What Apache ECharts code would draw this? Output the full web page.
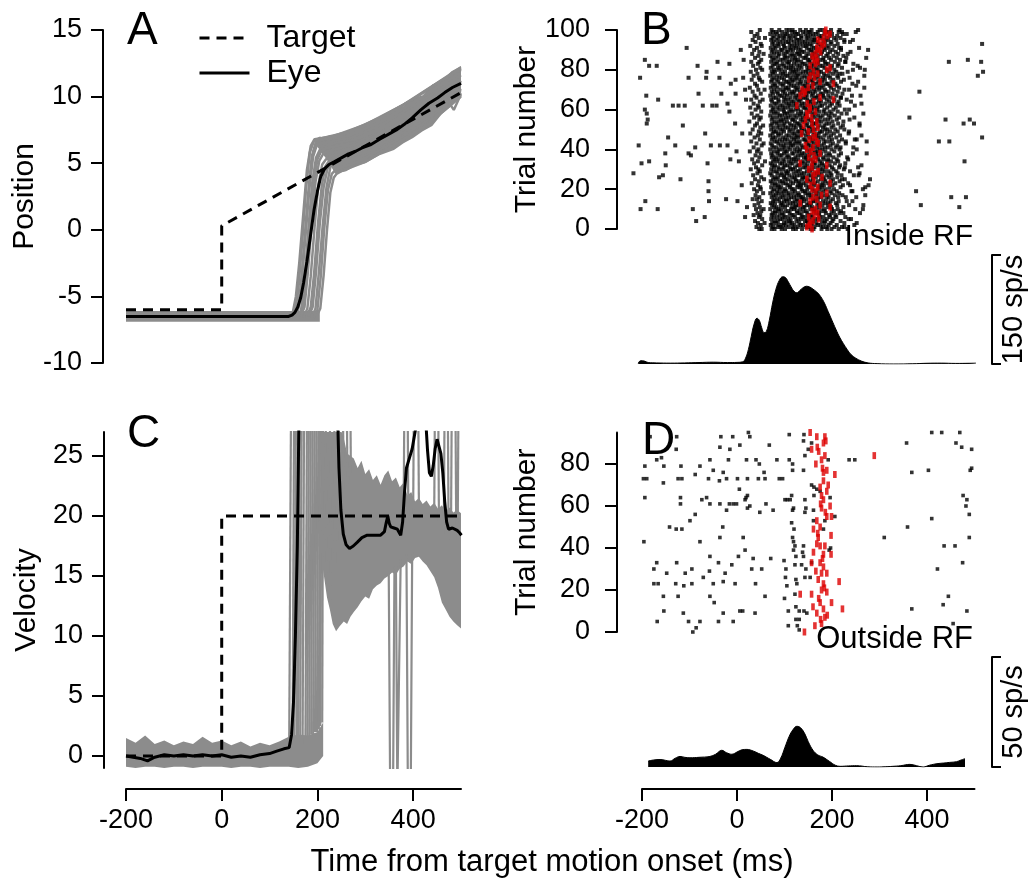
<!DOCTYPE html>
<html><head><meta charset="utf-8">
<script src="https://cdn.jsdelivr.net/npm/echarts@6/dist/echarts.min.js"></script>
<style>html,body{margin:0;padding:0;background:#fff}#c{width:1031px;height:886px}</style>
</head><body><div id="c"></div>
<script>
const FONT = '"Liberation Sans", Arial, Helvetica, sans-serif';
const GRAY = '#8c8c8c';
const RED = '#dd0000';

// ---- tick values ----
const timeTicks = [-200, 0, 200, 400];
const posTicks = [-10, -5, 0, 5, 10, 15];
const velTicks = [0, 5, 10, 15, 20, 25];
const trialTicksB = [0, 20, 40, 60, 80, 100];
const trialTicksD = [0, 20, 40, 60, 80];
const scaleTicksB = [0, 150];
const scaleTicksD = [0, 50];

// ---- Panel A: position ----
const targetPos = [[-200, -6], [0, -6], [0, 0.3], [500, 10.3]];
const eyePos = [[-200,-6.5],[100,-6.5],[140,-6.5],[147,-6.4],[153,-6.2],[159,-5.8],[165,-5.1],[171,-4.0],[178,-2.4],[186,-0.3],[193,1.5],[200,2.9],[207,4.0],[215,4.6],[224,4.9],[235,5.1],[250,5.4],[265,5.7],[280,5.9],[296,6.2],[312,6.4],[330,6.8],[350,7.2],[365,7.5],[381,7.9],[398,8.4],[416,9.0],[433,9.5],[451,9.9],[466,10.3],[483,10.7],[500,11.0]];
const posPreT = [-200, 205];
const posPreHi = [-6.1, -6.1];
const posPreLo = [-6.9, -6.9];
const posPostT = [196,205,215,225,237,260,280,300,330,360,380,400,420,440,460,480,500];
const posPostHi = [6.8,7.0,6.9,7.1,7.1,7.4,7.5,8.0,8.3,9.0,9.3,9.9,10.1,10.9,11.2,11.9,12.3];
const posPostLo = [6.4,6.0,5.5,5.0,4.2,4.4,4.8,5.0,5.6,6.0,6.5,6.9,7.4,7.8,8.7,9.3,10.0];
const posTraces = [
 [[140,-6.5],[148,-6.3],[155,-5],[162,-2.5],[170,1],[178,4.5],[186,6.3],[194,6.8],[230,7.0],[300,7.9],[380,9.4],[440,10.8],[500,12.2]],
 [[146,-6.6],[153,-6.2],[160,-4.5],[168,-1],[176,3],[184,5.8],[192,6.6],[200,6.8],[260,7.3],[330,8.4],[400,9.8],[460,11.2],[500,12.0]],
 [[150,-6.6],[158,-6.1],[165,-4.3],[172,-1.2],[180,2.5],[188,5.5],[196,6.5],[204,6.7],[250,7.1],[320,8.1],[390,9.6],[450,11.0],[500,12.1]],
 [[152,-6.5],[160,-6.0],[167,-4],[175,-0.5],[183,3],[191,5.5],[199,6.4],[207,6.5],[270,6.9],[340,8.0],[410,9.5],[470,10.9],[500,11.6]],
 [[158,-6.6],[166,-6.0],[173,-3.8],[181,0],[189,3.5],[197,5.4],[205,6.0],[213,6.2],[280,6.6],[350,7.5],[420,9.0],[480,10.5],[500,11.2]],
 [[161,-6.6],[169,-6.0],[176,-3.6],[184,0.1],[192,3.5],[200,5.3],[208,5.9],[216,6.1],[285,6.6],[355,7.7],[425,9.1],[500,11.1]],
 [[165,-6.5],[173,-5.8],[180,-3.2],[188,0.5],[196,3.6],[204,5.2],[212,5.7],[220,5.9],[290,6.5],[360,7.8],[430,9.3],[500,11.0]],
 [[171,-6.6],[179,-5.9],[186,-3.5],[194,0.2],[202,3.4],[210,4.9],[218,5.3],[226,5.5],[300,6.2],[370,7.4],[440,8.9],[500,10.6]],
 [[178,-6.5],[186,-5.8],[193,-3.3],[201,0.4],[209,3.3],[217,4.8],[225,5.2],[233,5.4],[300,6.0],[370,7.3],[440,8.8],[500,10.5]],
 [[182,-6.5],[190,-5.8],[197,-3.2],[205,0.5],[213,3.2],[221,4.6],[229,5.0],[237,5.2],[300,5.8],[370,7.1],[440,8.6],[500,10.3]],
 [[188,-6.6],[196,-5.9],[203,-3.2],[211,0.3],[219,3.2],[227,4.7],[235,5.2],[245,5.5],[320,6.6],[400,8.3],[470,9.8],[485,9.0],[500,10.2]],
 [[192,-6.6],[200,-6.0],[207,-3.5],[214,0],[222,3.0],[230,4.2],[238,4.5],[246,4.6],[290,5.2],[360,6.6],[420,7.7],[500,10.1]],
 [[198,-6.5],[206,-5.9],[213,-3.4],[220,0],[227,2.8],[234,3.9],[240,4.2],[250,4.4],[300,5.1],[370,6.6],[430,7.9],[500,10.0]]
];

// ---- Panel C: velocity ----
const targetVel = [[-200, 0], [0, 0], [0, 20], [500, 20]];
const eyeVel = [[-200,0],[-185,-0.1],[-170,-0.2],[-155,-0.4],[-140,-0.1],[-120,0.1],[-100,0],[-80,0.1],[-60,0],[-40,0.1],[-20,0],[0,0.1],[20,-0.1],[40,0],[60,-0.1],[80,0.1],[100,0.2],[115,0.4],[130,0.6],[141,0.7],[146,1.8],[150,4.5],[154,10],[158,17.5],[162,30],[166,45],[236,45],[241,30],[245,24],[249,20.5],[254,18.5],[260,17.6],[267,17.3],[275,17.5],[283,17.8],[293,18.2],[304,18.4],[318,18.4],[332,18.4],[340,18.7],[344,19.5],[347,20.0],[350,19.4],[353,19.1],[360,19.0],[367,18.9],[374,18.4],[378,19.5],[382,22],[386,24],[392,24.8],[398,25.6],[404,27],[410,28.5],[418,29],[426,28.2],[430,25.5],[434,23.6],[438,23.3],[442,24.2],[446,25.6],[450,26.4],[454,26.4],[458,25.2],[462,23.6],[466,21.2],[470,19.5],[474,18.9],[478,18.8],[482,19.0],[486,19.1],[492,18.8],[497,18.6],[501,18.4]];
const velPreT = [-200,-180,-160,-140,-120,-100,-80,-60,-40,-20,0,20,40,60,80,100,120,140,160,180,200,212];
const velPreHi = [1.5,1.1,1.7,1.0,1.3,0.9,1.2,1.0,1.6,1.1,1.3,0.9,1.2,0.8,1.1,0.9,1.2,1.6,1.8,1.7,2.0,2.8];
const velPreLo = [-0.9,-1.0,-0.9,-0.9,-1.0,-0.9,-0.9,-1.0,-0.9,-0.9,-0.9,-1.0,-0.9,-0.9,-1.0,-0.9,-0.9,-0.9,-1.0,-0.9,-0.6,0.0];
const velPostT = [208,214,220,226,232,239,246,255,262,269,276,284,292,300,308,316,324,332,340,348,356,364,372,380,388,396,404,412,420,428,436,444,452,460,468,476,484,492,501];
const velPostHi = [27.5,27.5,27.5,27.5,27.5,27.5,27.5,26.5,25.2,25.0,24.8,24.0,24.6,23.5,23.9,23.0,23.4,22.6,23.4,23.8,22.9,23.2,22.4,22.8,21.7,22.0,21.2,21.5,21.0,21.3,20.8,21.1,20.6,20.9,20.4,20.7,20.3,20.5,20.2];
const velPostLo = [16.5,14.9,13.2,12.2,11.0,10.4,10.8,11.2,11.0,11.6,12.0,12.4,12.9,13.3,13.1,13.9,14.2,14.4,14.8,15.0,15.3,15.1,15.6,15.8,16.2,16.0,16.5,16.6,16.2,15.9,15.4,14.9,14.0,12.8,12.2,11.6,11.2,10.9,10.6];
const velTraces = [
 [[141,1],[147,45]],[[148,1],[153,45]],[[152,1],[157,45]],[[157,1.2],[162,45]],[[160,1.2],[165,45]],
 [[164,1.5],[169,45]],[[169,1],[174,45]],[[175,1.5],[180,45]],[[179,1.5],[184,45]],
 [[183,1.5],[188,45]],[[187,1.8],[192,45]],[[191,1.5],[196,45]],[[195,2],[200,45]],[[199,2],[204,45]],
 [[203,2.2],[207,45]],[[206,2.5],[210,45]],[[210,2.8],[213,45]],
 [[215,45],[219,15]],[[224,45],[228,13]],[[233,45],[237,16]],[[242,45],[246,18]],[[250,45],[255,21]],[[258,45],[263,22]],[[266,45],[270,23]],
 [[380,19],[384,45]],[[386,45],[390,20]],[[400,20],[404,45]],[[408,45],[412,21]],[[444,20],[448,45]],[[450,45],[454,19]],
 [[464,18],[468,45]],[[470,45],[474,19]],[[479,18],[483,45]],[[486,45],[490,19]],[[493,18],[497,45]],
 [[349,15.5],[352,-3],[358,-3],[361,16]],[[364,16],[367,-3],[371,-3],[374,16.5]],[[386,17],[389,-3],[395,-3],[398,17]]
];

// ---- Panel B: raster inside RF (spike times per trial, ms; index = trial) ----
const bandB = [
"47 52 73 79 94 101 118 124 137 155 161 178 190 199 214 233",
"41 76 85 92 109 117 128 146 150 163 181 188 205 221",
"50 71 89 97 103 121 134 139 156 170 176 193 210 247",
"44 58 74 82 99 112 116 131 149 158 167 184 197 226",
"38 79 86 104 110 125 143 147 160 179 186 201 218",
"53 72 91 96 113 129 135 152 164 171 189 203 240",
"46 77 84 100 107 122 138 144 159 175 182 196 209 228",
"35 49 73 90 98 115 119 136 151 157 173 194 207",
"43 75 81 95 111 127 132 148 166 172 187 199 216 259",
"51 80 88 102 108 126 140 145 162 177 185 204 219",
"40 56 70 87 93 114 120 133 154 161 168 183 200 212 265",
"48 78 83 101 116 123 139 142 158 174 191 198 224",
"37 74 92 97 106 124 130 147 153 169 180 195 211 236",
"45 71 80 94 112 118 135 150 156 173 186 192 208",
"52 76 89 99 105 121 128 141 160 165 181 197 214 231",
"33 42 79 85 103 110 126 137 146 163 170 188 202",
"47 73 91 96 114 120 134 139 155 172 178 193 213 251",
"39 77 82 100 108 125 131 149 157 166 184 190 206 222",
"55 70 87 94 109 117 129 144 152 168 176 199 215",
"42 75 84 98 104 122 138 143 161 167 182 196 210 243",
"36 50 78 90 101 115 119 136 148 159 174 187 204",
"49 72 86 93 111 127 133 151 154 171 179 195 218 270",
"44 80 88 106 112 128 135 145 162 175 183 201 223",
"31 74 81 97 103 118 132 140 158 164 180 192 207 234",
"46 71 90 95 113 124 130 146 153 170 186 198 216",
"38 57 76 83 102 107 123 137 149 160 177 184 202 227",
"51 79 86 99 116 121 139 142 159 166 181 194 211",
"34 73 92 100 110 126 132 150 156 173 189 199 220 256",
"43 70 85 94 105 119 136 141 163 168 178 197 212",
"48 77 83 103 108 125 129 147 154 171 185 193 209 238",
"29 45 72 89 96 114 118 133 152 158 176 180 203 225",
"40 78 87 98 111 122 140 144 161 169 187 200 215",
"53 74 80 101 106 127 131 148 157 174 182 195 217 262",
"36 71 91 95 113 117 135 143 162 165 179 206 228",
"44 59 76 84 100 109 124 138 150 160 175 190 198 213",
"32 79 88 97 115 120 129 146 155 171 183 192 210",
"47 73 82 104 110 123 141 145 163 167 181 203 232",
"39 75 90 94 107 128 134 149 153 172 188 196 214",
"50 72 85 99 116 119 137 142 158 166 177 194 219 273",
"27 42 78 86 102 105 126 131 151 164 170 186 205",
"45 70 89 96 112 121 133 147 156 174 180 199 216",
"35 77 83 100 108 127 139 144 160 168 185 191 208 245",
"52 74 92 98 114 118 136 150 155 171 178 197 211",
"41 56 71 87 103 111 122 130 148 162 169 183 202 229",
"30 79 84 95 113 125 132 146 157 173 187 195 214",
"48 73 90 101 106 120 140 143 159 165 182 200 221 252",
"37 76 81 97 115 123 129 152 154 170 176 193 209",
"44 70 88 104 109 126 134 145 161 167 184 198 217",
"28 51 75 86 93 117 121 138 149 163 172 189 204 235",
"46 78 82 99 110 128 131 147 156 175 179 196 212",
"33 72 91 96 112 119 137 141 160 164 186 190 207 226",
"49 77 85 102 107 124 135 151 153 170 181 199 218",
"38 55 71 89 97 114 120 133 146 158 174 184 203 258",
"42 74 83 100 111 127 130 148 162 166 188 194 213",
"26 79 87 94 105 122 138 143 157 172 178 201 224",
"47 73 92 98 116 118 134 150 155 169 185 192 210 237",
"36 50 76 84 103 108 125 139 147 163 176 197 215",
"43 70 90 95 113 121 132 144 159 171 180 193 206",
"31 78 86 101 106 128 136 145 161 165 187 199 220 266",
"51 72 81 99 110 117 135 152 154 173 182 195 212",
"39 75 89 97 114 123 129 146 158 168 184 203 227",
"28 46 77 85 100 107 126 140 143 162 170 190 208",
"44 71 91 96 112 120 133 149 156 175 179 196 216 248",
"35 79 83 104 109 124 137 142 160 166 186 200 211",
"48 74 88 98 115 119 131 151 153 172 177 194 214",
"30 54 72 87 102 108 127 134 148 159 174 189 205 231",
"41 77 82 99 113 122 139 144 163 167 183 197 218",
"37 70 90 94 105 125 130 147 157 170 181 192 209 260",
"50 76 86 101 111 118 136 145 160 176 180 201 222",
"33 73 84 97 116 121 132 150 154 165 187 193 212",
"45 58 78 92 100 109 126 138 146 162 173 185 204 236",
"27 71 85 103 107 123 129 148 155 169 178 198 215",
"42 75 81 96 114 120 140 143 158 174 182 195 210",
"38 79 91 98 110 127 133 149 161 166 188 191 207 243",
"53 72 87 104 108 117 135 144 159 171 179 199 219",
"31 48 74 83 99 115 122 131 152 157 176 185 203 225",
"46 77 89 95 112 125 137 146 163 168 181 196 213",
"35 70 84 102 106 119 128 142 154 172 186 193 211 268",
"43 76 92 97 111 126 134 150 160 165 183 202 216",
"29 73 80 101 117 121 139 145 156 173 177 194 209 233",
"40 53 78 88 94 113 124 130 148 162 170 189 205",
"49 71 86 103 109 118 136 151 155 167 184 197 221",
"34 75 90 99 114 127 132 147 161 175 180 200 212 254",
"44 79 83 96 108 120 138 143 157 169 187 192 214",
"30 47 72 85 105 110 126 135 152 164 171 185 206 228",
"51 77 91 97 115 122 129 149 153 174 181 198 217",
"38 74 82 100 106 123 140 144 160 166 182 194 210 272",
"45 70 87 102 112 119 133 146 158 170 188 203 224",
"32 56 78 89 98 116 125 131 150 163 177 191 213",
"47 73 84 104 107 128 137 142 159 168 179 196 208 239",
"36 76 92 95 113 118 134 152 156 172 185 201 219",
"42 71 81 101 110 124 130 147 162 167 183 193 215 257",
"28 52 79 88 99 115 121 139 145 157 176 189 205",
"50 74 86 97 111 126 132 148 154 171 180 197 212",
"39 77 90 103 108 120 138 143 161 169 186 199 226",
"33 72 83 96 114 127 131 150 158 164 182 192 209 244",
"46 59 75 87 100 109 123 136 146 163 175 188 204 218",
"37 78 91 98 112 119 135 149 155 173 178 195 211",
"43 70 85 102 106 125 129 144 160 166 184 200 223",
"30 76 82 95 116 122 139 151 153 170 187 193 214 250",
"48 73 89 104 110 117 133 145 157 174 180 198 216"
];
const tailB = [[221,99],[226,95],[219,91],[233,88],[228,84],[245,83],[222,78],[237,76],[251,72],[226,70],[219,66],[240,64],[231,58],[247,56],[223,52],[236,49],[262,47],[229,44],[218,41],[252,40],[234,35],[227,31],[246,27],[221,25],[238,22],[265,20],[229,16],[243,14],[224,8],[235,5],[252,3],[226,1],[273,44],[280,25],[268,71],[276,90]];
const sparseB = [[-222,69],[-218,28],[-207,42],[-204,76],[-203,10],[-201,33],[-194,85],[-193,14],[-191,67],[-194,60],[-190,58],[-188,55],[-190,53],[-185,82],[-185,34],[-169,82],[-167,10],[-166,65],[-164,26],[-156,27],[-151,38],[-150,32],[-145,46],[-135,62],[-130,42],[-123,62],[-119,25],[-114,52],[-110,62],[-106,91],[-102,76],[-102,38],[-97,37],[-93,10],[-88,41],[-86,4],[-83,82],[-81,68],[-72,62],[-68,6],[-67,48],[-65,76],[-64,79],[-62,33],[-60,24],[-60,19],[-59,14],[-55,42],[-52,62],[-43,62],[-41,84],[-37,76],[-36,42],[-33,68],[-23,15],[-20,63],[-20,42],[-16,83],[-16,59],[-14,35],[-13,73],[-4,53],[-3,68],[-3,75],[-1,39],[1,14],[4,34],[13,76],[11,48],[14,85],[17,70],[21,11],[17,6],[19,65],[8,90],[10,22],
 [231,98],[238,94],[244,80],[255,100],[259,81],[255,74],[262,63],[269,80],[258,53],[244,38],[241,19],[255,31],[258,28],[277,22],[270,17],[266,12],[249,10],[236,60],[248,45],[230,86],[242,67],
 [363,56],[377,19],[384,69],[387,12],[425,44],[439,55],[446,84],[447,44],[451,16],[468,11],[477,53],[479,34],[482,16],[486,85],[490,55],[499,53],[507,77],[514,84],[516,93],[518,79],[516,46]];
const redB = [158,147,152,154,160,172,151,163,170,158,165,196,175,133,154,168,160,178,189,166,158,170,154,196,162,147,179,160,165,171,151,158,189,133,158,166,151,162,175,155,147,160,144,171,168,152,160,165,136,150,161,170,140,158,168,144,157,149,147,165,153,154,126,148,162,203,175,133,141,144,137,150,160,203,175,151,163,154,170,161,189,196,154,165,170,161,168,158,165,176,172,168,179,184,175,170,182,190,196,185,187];
const psthB = [[-208,1],[-203,4.5],[-195,4],[-187,2],[-170,1.5],[-140,1.2],[-110,1.5],[-80,2],[-50,2.5],[-20,2],[0,2.2],[12,3],[18,8],[24,20],[30,38],[36,55],[42,63],[47,60],[52,50],[57,43],[62,45],[68,60],[75,84],[82,103],[89,115],[96,120],[102,119],[108,113],[114,106],[120,100],[126,98],[132,101],[139,105],[146,107],[153,106],[160,103],[168,99],[176,93],[184,84],[192,72],[200,60],[208,48],[216,37],[224,28],[232,20],[240,13],[250,8],[262,4],[276,1.5],[295,0.5],[330,0],[370,0.3],[400,1],[430,1.2],[460,0.8],[490,1],[503,1.2]];

// ---- Panel D: raster outside RF ----
const sparseD = [[-183,93],[-194,79],[-190,73],[-197,73],[-194,64],[-196,43],[-169,82],[-159,83],[-154,79],[-155,71],[-169,33],[-175,30],[-175,23],[-166,23],[-155,17],[-154,10],[-168,5],[-148,28],[-127,93],[-128,87],[-118,79],[-124,73],[-116,73],[-119,64],[-119,61],[-142,50],[-128,49],[-116,49],[-127,33],[-129,23],[-124,17],[-109,28],[-112,22],[-95,30],[-95,23],[-113,9],[-102,5],[-93,0],[-86,2],[-78,5],[-99,53],[-88,56],[-88,75],[-78,79],[-74,63],[-64,64],[-78,43],[-71,26],[-60,73],[-57,82],[-50,77],[-57,61],[-57,36],[-58,29],[-57,17],[-50,23],[-48,14],[-39,5],[-37,72],[-36,88],[-34,93],[-29,76],[-36,61],[-22,58],[-30,50],[-36,45],[-39,33],[-29,24],[-25,28],[-29,9],[-18,82],[-22,73],[-16,61],[-15,87],[-9,93],[-8,5],[-11,32],[-8,61],[-4,23],[-1,61],[5,68],[1,73],[6,89],[3,36],[6,10],[12,10],[13,45],[17,39],[20,82],[22,73],[17,63],[19,64],[22,59],[22,65],[24,95],[27,93],[27,60],[34,35],[31,30],[39,23],[38,9],[40,82],[47,80],[45,73],[57,76],[52,30],[59,17],[48,57],[61,61],[59,73],[68,89],[71,35],[76,58],[84,82],[89,73],[96,73],[101,63],[99,34],[103,30],[102,26],[105,22],[100,16],[106,63],[108,3],[108,10],[110,94],[110,82],[117,80],[117,77],[115,65],[112,63],[119,59],[117,58],[115,52],[120,49],[117,45],[119,43],[122,41],[119,39],[124,36],[122,32],[124,25],[126,23],[122,18],[124,12],[124,6],[131,10],[131,1],[127,3],[131,6],[136,32],[138,38],[140,36],[140,77],[140,91],[141,94],[143,63],[143,57],[145,59],[140,41],[145,30],[143,26],[141,10],[147,9],[150,87],[143,84],[157,90],[157,70],[162,69],[161,58],[161,53],[157,33],[154,26],[162,65],[168,68],[175,67],[182,49],[185,53],[192,82],[194,39],[197,40],[196,64],[206,55],[236,82],[248,82],[357,90],[368,76],[310,45],[359,50],[368,11],[403,77],[410,95],[431,95],[469,95],[461,90],[473,88],[494,87],[494,78],[491,77],[476,65],[484,63],[482,60],[489,56],[410,54],[489,45],[436,41],[459,41],[475,33],[422,30],[445,17],[434,13],[484,10],[455,4]];
const redD = [[154,95],[168,93],[185,93],[157,87],[169,88],[182,90],[187,91],[166,80],[178,82],[185,84],[182,76],[189,77],[206,75],[182,72],[175,69],[192,70],[178,65],[189,67],[182,63],[196,60],[178,59],[189,55],[199,55],[168,53],[161,49],[175,50],[171,45],[198,46],[168,42],[175,41],[185,41],[161,38],[182,37],[198,37],[157,33],[175,33],[182,31],[178,28],[189,28],[171,25],[182,23],[215,24],[178,20],[189,19],[157,18],[133,18],[175,14],[199,14],[182,11],[222,11],[168,9],[185,7],[178,4],[164,3],[142,0],[289,84],[172,86],[180,78],[176,61],[186,57],[170,47],[180,35],[166,29],[184,21],[172,16],[190,8],[176,6],[160,12]];
const psthD = [[-187,2.7],[-175,3.2],[-162,3.4],[-150,3.0],[-141,2.7],[-130,4.0],[-120,4.8],[-110,4.4],[-99,4.2],[-80,4.4],[-57,4.8],[-45,5.8],[-32,7.6],[-22,6.5],[-11,5.8],[0,6.8],[10,7.8],[21,8.0],[35,7.2],[45,6.2],[55,5.3],[70,3.5],[84,2.0],[92,4],[101,9],[110,14],[118,17],[126,18.5],[134,17.8],[143,15],[150,11.5],[160,7.6],[170,5.5],[181,4.5],[195,2.5],[207,0.8],[217,0.3],[235,0.5],[252,0.6],[275,0.1],[295,0],[312,0.1],[328,0.3],[345,0.6],[364,1.2],[378,0.6],[392,0],[405,0.8],[421,1.5],[435,1.8],[448,2.1],[462,2.4],[472,3.2],[480,3.8]];

// ---- build ----
const rasterBBlack = [];
bandB.forEach(function (s, trial) {
  s.split(' ').forEach(function (t) { rasterBBlack.push([+t, trial]); });
});
tailB.forEach(function (p) { rasterBBlack.push(p); });
sparseB.forEach(function (p) { rasterBBlack.push(p); });
const rasterBRed = redB.map(function (t, trial) { return [t, trial]; });

function band(xi, yi, T, HI, LO) {
  return {
    type: 'custom', xAxisIndex: xi, yAxisIndex: yi, clip: true, silent: true, z: 1,
    data: [[0, 0]],
    renderItem: function (params, api) {
      const pts = [];
      for (let i = 0; i < T.length; i++) pts.push(api.coord([T[i], HI[i]]));
      for (let i = T.length - 1; i >= 0; i--) pts.push(api.coord([T[i], LO[i]]));
      return { type: 'polygon', shape: { points: pts }, style: { fill: GRAY } };
    }
  };
}
function line(name, xi, yi, data, color, width, type, z) {
  return {
    type: 'line', name: name, xAxisIndex: xi, yAxisIndex: yi, data: data,
    symbol: 'none', clip: true, silent: true, z: z,
    lineStyle: { color: color, width: width, type: type }, itemStyle: { color: color }
  };
}
function xAx(gi, min, max, show, offset) {
  return {
    type: 'value', gridIndex: gi, min: min, max: max, show: show, offset: offset || 0,
    splitLine: { show: false },
    axisLine: { show: true, onZero: false, lineStyle: { color: '#000', width: 2 } },
    axisTick: { show: true, length: 12, customValues: timeTicks, lineStyle: { color: '#000', width: 2 } },
    axisLabel: { customValues: timeTicks, margin: 18, fontSize: 27, color: '#000', fontFamily: FONT }
  };
}
function yAx(gi, min, max, ticks, name, offset, nameGap, margin) {
  return {
    type: 'value', gridIndex: gi, min: min, max: max, offset: offset,
    splitLine: { show: false },
    axisLine: { show: true, onZero: false, lineStyle: { color: '#000', width: 2 } },
    axisTick: { show: true, length: 12, customValues: ticks, lineStyle: { color: '#000', width: 2 } },
    axisLabel: { customValues: ticks, margin: margin, fontSize: 27, color: '#000', fontFamily: FONT },
    name: name, nameLocation: 'middle', nameGap: nameGap, nameRotate: 90, nameMoveOverlap: false,
    nameTextStyle: { fontSize: 30, color: '#000', fontFamily: FONT }
  };
}
function scaleAx(gi, max, ticks, name, offset) {
  return {
    type: 'value', gridIndex: gi, min: 0, max: max, position: 'right', offset: offset,
    splitLine: { show: false },
    axisLine: { show: true, onZero: false, lineStyle: { color: '#000', width: 2 } },
    axisTick: { show: true, length: 9, inside: false, customValues: ticks, lineStyle: { color: '#000', width: 2 } },
    axisLabel: { show: false },
    name: name, nameLocation: 'middle', nameGap: 7, nameRotate: 90,
    nameTextStyle: { fontSize: 29, color: '#000', fontFamily: FONT }
  };
}

const series = [];
// Panel A
series.push(band(0, 0, posPreT, posPreHi, posPreLo));
series.push(band(0, 0, posPostT, posPostHi, posPostLo));
posTraces.forEach(function (tr) { series.push(line('trace', 0, 0, tr, GRAY, 2.5, 'solid', 2)); });
series.push(line('Target', 0, 0, targetPos, '#000', 3, [10, 7], 5));
series.push(line('Eye', 0, 0, eyePos, '#000', 3, 'solid', 4));
// Panel C
series.push(band(1, 1, velPreT, velPreHi, velPreLo));
series.push(band(1, 1, velPostT, velPostHi, velPostLo));
velTraces.forEach(function (tr) { series.push(line('trace', 1, 1, tr, GRAY, 2.2, 'solid', 2)); });
series.push(line('Target', 1, 1, targetVel, '#000', 3, [10, 7], 5));
series.push(line('Eye', 1, 1, eyeVel, '#000', 3, 'solid', 4));
// Panel B raster
series.push({ type: 'scatter', xAxisIndex: 2, yAxisIndex: 2, data: rasterBBlack, symbol: 'rect', symbolSize: 4, itemStyle: { color: '#000' }, silent: true, z: 2 });
series.push({ type: 'scatter', xAxisIndex: 2, yAxisIndex: 2, data: rasterBRed, symbol: 'rect', symbolSize: [3.6, 7], itemStyle: { color: RED }, silent: true, z: 3 });
// Panel B psth
series.push({ type: 'line', xAxisIndex: 3, yAxisIndex: 3, data: psthB, symbol: 'none', smooth: 0.4, silent: true,
  lineStyle: { color: '#000', width: 1 }, areaStyle: { color: '#000', opacity: 1 } });
// Panel D raster
series.push({ type: 'scatter', xAxisIndex: 4, yAxisIndex: 4, data: sparseD, symbol: 'rect', symbolSize: 3.6, itemStyle: { color: '#000' }, silent: true, z: 2 });
series.push({ type: 'scatter', xAxisIndex: 4, yAxisIndex: 4, data: redD, symbol: 'rect', symbolSize: [3.6, 7], itemStyle: { color: RED }, silent: true, z: 3 });
// Panel D psth
series.push({ type: 'line', xAxisIndex: 5, yAxisIndex: 5, data: psthD, symbol: 'none', smooth: 0.4, silent: true,
  lineStyle: { color: '#000', width: 1 }, areaStyle: { color: '#000', opacity: 1 } });

const chart = echarts.init(document.getElementById('c'), null, { renderer: 'canvas' });
chart.setOption({
  animation: false,
  backgroundColor: '#fff',
  textStyle: { fontFamily: FONT },
  grid: [
    { left: 126, top: 30, width: 335, height: 333, outerBoundsMode: 'none' },
    { left: 126, top: 432, width: 335, height: 336, outerBoundsMode: 'none' },
    { left: 632.5, top: 30, width: 351.5, height: 199, outerBoundsMode: 'none' },
    { left: 632.5, top: 255, width: 351.5, height: 109, outerBoundsMode: 'none' },
    { left: 642, top: 432.5, width: 332.5, height: 199.5, outerBoundsMode: 'none' },
    { left: 642, top: 657, width: 332.5, height: 110, outerBoundsMode: 'none' }
  ],
  xAxis: [
    xAx(0, -200, 500, false),
    xAx(1, -200, 500, true, 21),
    xAx(2, -220, 520, false),
    xAx(3, -220, 520, false),
    xAx(4, -200, 500, false),
    xAx(5, -200, 500, true, 22)
  ],
  yAxis: [
    yAx(0, -10, 15, posTicks, 'Position', 23, 63, 21),
    yAx(1, -1, 27, velTicks, 'Velocity', 22, 62, 21),
    yAx(2, 0, 100, trialTicksB, 'Trial number', 15.5, 75, 27),
    scaleAx(3, 150, scaleTicksB, '150 sp/s', 8),
    yAx(4, 0, 95, trialTicksD, 'Trial number', 25, 75, 27),
    scaleAx(5, 50, scaleTicksD, '50 sp/s', 17.5)
  ],
  legend: {
    data: ['Target', 'Eye'], orient: 'vertical', left: 193, top: 17,
    itemWidth: 50, itemHeight: 16, itemGap: 3, selectedMode: false,
    itemStyle: { color: 'rgba(0,0,0,0)', borderWidth: 0, opacity: 0 },
    lineStyle: { width: 3 },
    textStyle: { fontSize: 32, color: '#000', fontFamily: FONT, padding: [0, 0, 0, 12], lineHeight: 32 }
  },
  graphic: [
    { type: 'text', left: 127, top: 8, z: 100, style: { text: 'A', font: '46px ' + FONT, fill: '#000' } },
    { type: 'text', left: 641, top: 8, z: 100, style: { text: 'B', font: '46px ' + FONT, fill: '#000' } },
    { type: 'text', left: 127, top: 411, z: 100, style: { text: 'C', font: '46px ' + FONT, fill: '#000' } },
    { type: 'text', left: 642, top: 418, z: 100, style: { text: 'D', font: '46px ' + FONT, fill: '#000' } },
    { type: 'text', right: 58, top: 222, z: 100, style: { text: 'Inside RF', font: '30px ' + FONT, fill: '#000' } },
    { type: 'text', right: 58, top: 624, z: 100, style: { text: 'Outside RF', font: '31px ' + FONT, fill: '#000' } },
    { type: 'text', x: 552, y: 862, z: 100, style: { text: 'Time from target motion onset (ms)', font: '31px ' + FONT, fill: '#000', align: 'center', verticalAlign: 'middle' } }
  ],
  series: series
});
</script>
</body></html>
